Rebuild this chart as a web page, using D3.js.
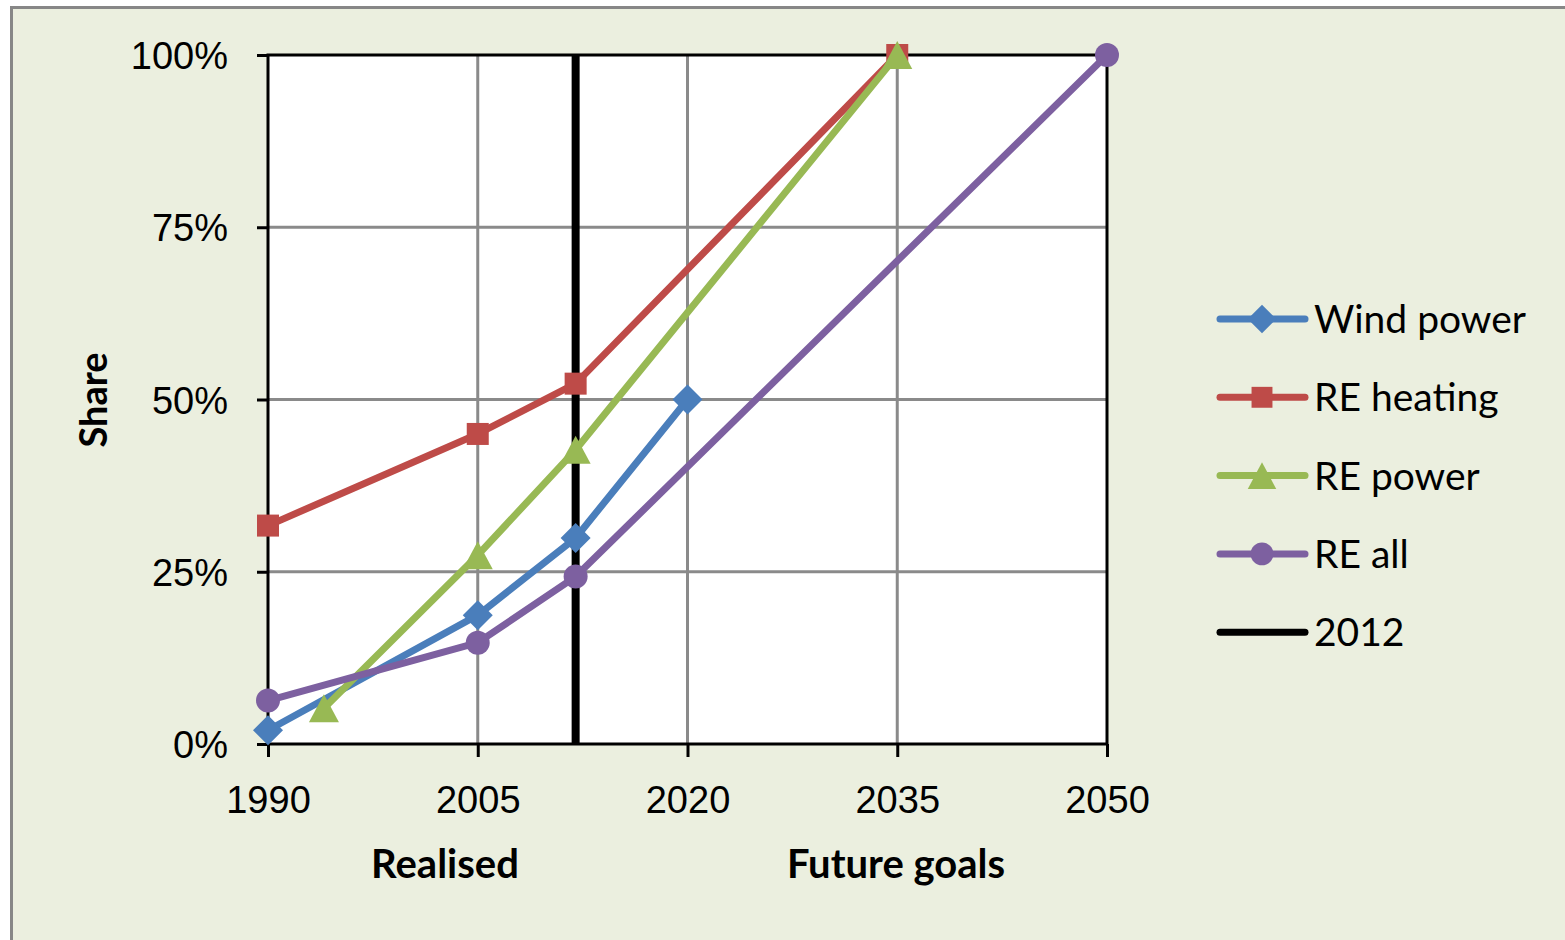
<!DOCTYPE html>
<html><head><meta charset="utf-8">
<script src="https://cdn.jsdelivr.net/npm/d3@7"></script>
<style>
html,body{margin:0;padding:0;background:#fff;}
svg{display:block;font-family:Lato,"Open Sans",sans-serif;}
</style></head>
<body>
<svg id="chart" width="1565" height="940"></svg>
<script>
// ---- data ----
const yTicks = [0, 25, 50, 75, 100];
const xTicks = [1990, 2005, 2020, 2035, 2050];
const markerYear = 2012;

const windYears = [1990, 2005, 2012, 2020];
const windValues = [2.0, 18.7, 29.9, 50];
const heatingYears = [1990, 2005, 2012, 2035];
const heatingValues = [31.7, 45.0, 52.3, 100];
const powerYears = [1994, 2005, 2012, 2035];
const powerValues = [5.2, 27.4, 42.7, 100];
const allYears = [1990, 2005, 2012, 2050];
const allValues = [6.3, 14.7, 24.3, 100];

const seriesNames = ["Wind power", "RE heating", "RE power", "RE all", "2012"];
const seriesColors = ["#4A7EBB", "#BE4B48", "#98B954", "#7D60A0", "#000000"];
const seriesMarkers = ["diamond", "square", "triangle", "circle", null];

// ---- layout ----
const svg = d3.select("#chart");
const M = {left: 268, top: 55, right: 1107, bottom: 744};
const x = d3.scaleLinear().domain([1990, 2050]).range([M.left, M.right]);
const y = d3.scaleLinear().domain([0, 100]).range([M.bottom, M.top]);

// background
svg.append("rect").attr("x", 0).attr("y", 0).attr("width", 1565).attr("height", 940).attr("fill", "#fff");
svg.append("rect").attr("x", 11.5).attr("y", 7.5).attr("width", 1570).attr("height", 950)
  .attr("fill", "#EBEFDF").attr("stroke", "#878787").attr("stroke-width", 3);
svg.append("rect").attr("x", M.left).attr("y", M.top).attr("width", M.right - M.left).attr("height", M.bottom - M.top)
  .attr("fill", "#fff");

// gridlines
svg.append("g").selectAll("line.h").data(yTicks.filter(d => d > 0 && d < 100)).join("line")
  .attr("x1", M.left).attr("x2", M.right).attr("y1", d => y(d)).attr("y2", d => y(d))
  .attr("stroke", "#8a8a8a").attr("stroke-width", 3);
svg.append("g").selectAll("line.v").data(xTicks.filter(d => d > 1990 && d < 2050)).join("line")
  .attr("y1", M.top).attr("y2", M.bottom).attr("x1", d => x(d)).attr("x2", d => x(d))
  .attr("stroke", "#8a8a8a").attr("stroke-width", 3);

// axes
const yAxis = d3.axisLeft(y).tickValues(yTicks).tickFormat(d => d + "%").tickSize(11).tickPadding(29);
const gy = svg.append("g").attr("transform", `translate(${M.left},0)`).call(yAxis);
gy.select(".domain").remove();
gy.selectAll(".tick line").attr("stroke", "#000").attr("stroke-width", 3);
gy.selectAll(".tick text").attr("font-size", 38).attr("fill", "#000").attr("dy", "0.36em");

const xAxis = d3.axisBottom(x).tickValues(xTicks).tickFormat(d3.format("d")).tickSize(13).tickPadding(29);
const gx = svg.append("g").attr("transform", `translate(0,${M.bottom})`).call(xAxis);
gx.select(".domain").remove();
gx.selectAll(".tick line").attr("stroke", "#000").attr("stroke-width", 3);
gx.selectAll(".tick text").attr("font-size", 38).attr("fill", "#000");

// plot frame
svg.append("rect").attr("x", M.left).attr("y", M.top).attr("width", M.right - M.left).attr("height", M.bottom - M.top)
  .attr("fill", "none").attr("stroke", "#000").attr("stroke-width", 3);

// 2012 line
svg.append("line").attr("x1", x(markerYear)).attr("x2", x(markerYear)).attr("y1", y(100)).attr("y2", y(0))
  .attr("stroke", "#000").attr("stroke-width", 8);

// series
const allSeries = [
  {years: windYears, values: windValues},
  {years: heatingYears, values: heatingValues},
  {years: powerYears, values: powerValues},
  {years: allYears, values: allValues}
];
const line = d3.line().x(d => x(d[0])).y(d => y(d[1]));

function marker(g, type, cx, cy, color, s) {
  if (type === "diamond") {
    const r = 15 * s;
    g.append("path").attr("d", `M${cx},${cy - r}L${cx + r},${cy}L${cx},${cy + r}L${cx - r},${cy}Z`).attr("fill", color);
  } else if (type === "square") {
    const r = 11 * s;
    g.append("rect").attr("x", cx - r).attr("y", cy - r).attr("width", 2 * r).attr("height", 2 * r).attr("fill", color);
  } else if (type === "triangle") {
    const h = 14 * s, w = 15 * s;
    g.append("path").attr("d", `M${cx},${cy - h}L${cx + w},${cy + h}L${cx - w},${cy + h}Z`).attr("fill", color);
  } else if (type === "circle") {
    g.append("circle").attr("cx", cx).attr("cy", cy).attr("r", 12 * s).attr("fill", color);
  }
}

const sg = svg.append("g");
allSeries.forEach((s, i) => {
  const pts = s.years.map((yr, k) => [yr, s.values[k]]);
  sg.append("path").attr("d", line(pts)).attr("fill", "none")
    .attr("stroke", seriesColors[i]).attr("stroke-width", 7).attr("stroke-linejoin", "round");
});
allSeries.forEach((s, i) => {
  s.years.forEach((yr, k) => marker(sg, seriesMarkers[i], x(yr), y(s.values[k]), seriesColors[i], 1));
});

// axis titles
svg.append("text").attr("x", 445).attr("y", 878).attr("text-anchor", "middle")
  .attr("font-size", 40).attr("font-weight", "bold").text("Realised");
svg.append("text").attr("x", 896).attr("y", 878).attr("text-anchor", "middle")
  .attr("font-size", 40).attr("font-weight", "bold").text("Future goals");
svg.append("text").attr("transform", "translate(107,400) rotate(-90)").attr("text-anchor", "middle")
  .attr("font-size", 38).attr("font-weight", "bold").text("Share");

// legend
const lg = svg.append("g");
seriesNames.forEach((name, i) => {
  const ly = 319 + i * 78.3;
  lg.append("line").attr("x1", 1220).attr("x2", 1305).attr("y1", ly).attr("y2", ly)
    .attr("stroke", seriesColors[i]).attr("stroke-width", 7).attr("stroke-linecap", "round");
  if (seriesMarkers[i]) marker(lg, seriesMarkers[i], 1262, ly, seriesColors[i], 0.95);
  lg.append("text").attr("x", 1314).attr("y", ly).attr("dy", "0.36em")
    .attr("font-size", 39).attr("fill", "#000").text(name);
});
</script>
</body></html>
